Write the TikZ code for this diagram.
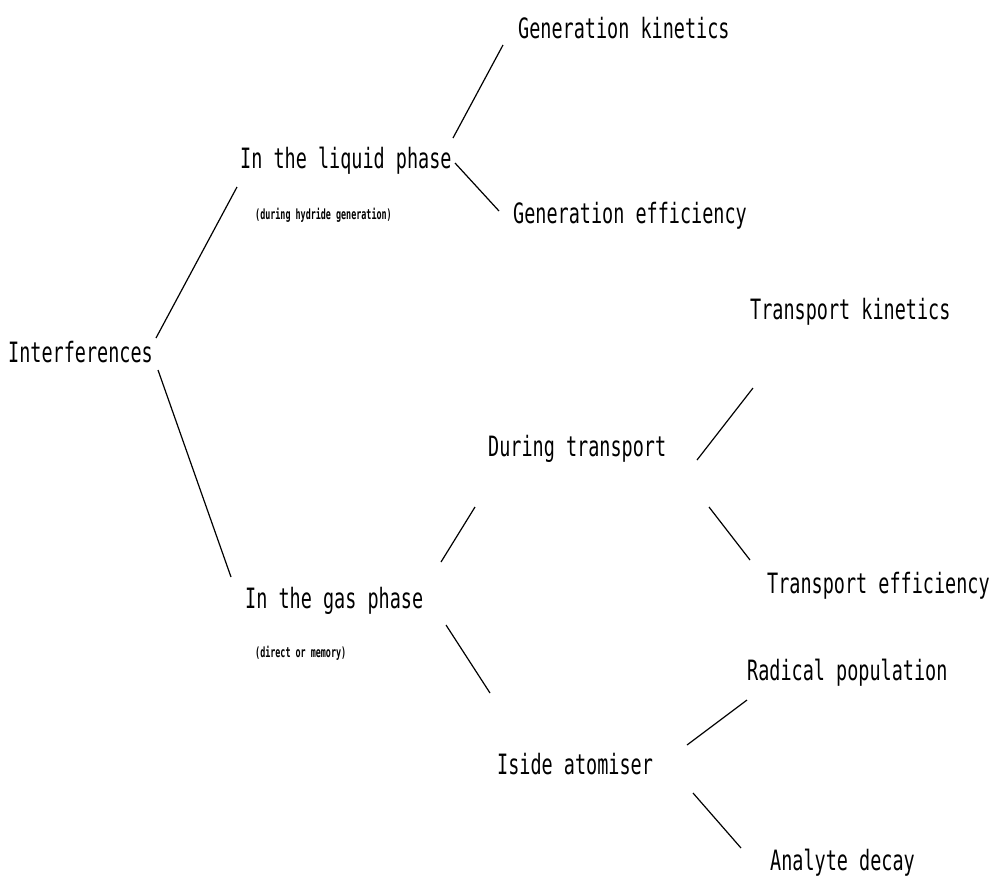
\documentclass[tikz,border=0pt]{standalone}
\usepackage{fontspec}
\setmainfont{DejaVu Sans Mono}[FakeStretch=0.66]
\newfontfamily\smallfont{DejaVu Sans Mono}[FakeStretch=0.6]
\begin{document}
\begin{tikzpicture}[x=1pt,y=-1pt,
  lbl/.style={anchor=base west,inner sep=0pt,font=\fontsize{28}{30}\selectfont},
  sub/.style={anchor=base west,inner sep=0pt,font=\smallfont\bfseries\fontsize{14}{15}\selectfont},
  conn/.style={line width=1.2pt}]
\useasboundingbox (0,0) rectangle (993,879);
% labels
\node[lbl] (int) at (8,362) {Interferences};
\node[lbl] (liq) at (240,168) {In the liquid phase};
\node[sub] (liqs) at (255,219) {(during hydride generation)};
\node[lbl] (gk) at (518,38) {Generation kinetics};
\node[lbl] (ge) at (513,223) {Generation efficiency};
\node[lbl] (gas) at (245,608) {In the gas phase};
\node[sub] (gass) at (255,657) {(direct or memory)};
\node[lbl] (dt) at (488,456) {During transport};
\node[lbl] (tk) at (750,319) {Transport kinetics};
\node[lbl] (te) at (767,593) {Transport efficiency};
\node[lbl] (ia) at (497,774) {Iside atomiser};
\node[lbl] (rp) at (747,680) {Radical population};
\node[lbl] (ad) at (770,870) {Analyte decay};
% connector end points
\coordinate (a1) at (156,338); \coordinate (a2) at (237,187);
\coordinate (b1) at (158,370); \coordinate (b2) at (231,577);
\coordinate (c1) at (453,138); \coordinate (c2) at (503,45);
\coordinate (d1) at (455,163); \coordinate (d2) at (499,211);
\coordinate (e1) at (441,562); \coordinate (e2) at (475,507);
\coordinate (f1) at (446,625); \coordinate (f2) at (490,693);
\coordinate (g1) at (697,460); \coordinate (g2) at (753,388);
\coordinate (h1) at (709,507); \coordinate (h2) at (750,560);
\coordinate (i1) at (687,745); \coordinate (i2) at (747,700);
\coordinate (j1) at (693,793); \coordinate (j2) at (741,848);
\draw[conn] (a1) -- (a2);
\draw[conn] (b1) -- (b2);
\draw[conn] (c1) -- (c2);
\draw[conn] (d1) -- (d2);
\draw[conn] (e1) -- (e2);
\draw[conn] (f1) -- (f2);
\draw[conn] (g1) -- (g2);
\draw[conn] (h1) -- (h2);
\draw[conn] (i1) -- (i2);
\draw[conn] (j1) -- (j2);
\end{tikzpicture}
\end{document}
